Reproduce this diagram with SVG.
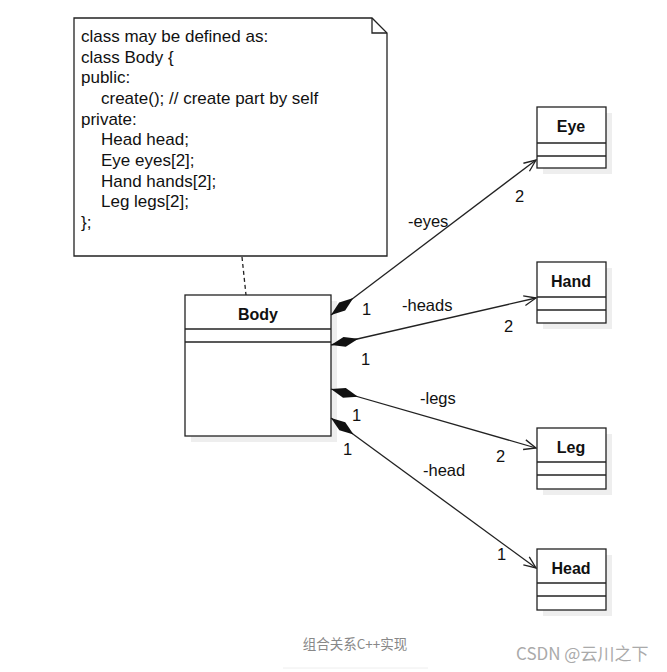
<svg xmlns="http://www.w3.org/2000/svg" width="667" height="672" viewBox="0 0 667 672">
<style>
.box{fill:#fff;stroke:#222;stroke-width:1.3}
.sh{fill:#eee}
.t{font-family:"Liberation Sans",Arial,sans-serif;font-size:16.5px;fill:#111}
.n{font-family:"Liberation Sans",Arial,sans-serif;font-size:17px;fill:#111}
.b{font-family:"Liberation Sans",Arial,sans-serif;font-size:16px;font-weight:bold;fill:#111;text-anchor:middle}
.ln{stroke:#222;stroke-width:1.3;fill:none}
</style>
<defs>
<marker id="open" markerWidth="14" markerHeight="12" refX="13" refY="6" orient="auto" markerUnits="userSpaceOnUse">
<path d="M1,1 L13,6 L1,11" fill="none" stroke="#222" stroke-width="1.3"/>
</marker>
</defs>
<rect width="667" height="672" fill="#fff"/>
<g id="note">
<path class="box" d="M74,18 H372 L387,33 V256 H74 Z"/>
<path class="ln" d="M372,18 V33 H387"/>
<text class="n" x="81" y="42">class may be defined as:</text>
<text class="n" x="81" y="63">class Body {</text>
<text class="n" x="81" y="83">public:</text>
<text class="n" x="101" y="104">create(); // create part by self</text>
<text class="n" x="81" y="125">private:</text>
<text class="n" x="101" y="145">Head head;</text>
<text class="n" x="101" y="166">Eye eyes[2];</text>
<text class="n" x="101" y="187">Hand hands[2];</text>
<text class="n" x="101" y="207">Leg legs[2];</text>
<text class="n" x="81" y="228">};</text>
</g>
<g id="body">
<rect class="sh" x="191" y="301" width="146" height="141"/>
<rect class="box" x="185" y="295" width="146" height="141"/>
<line class="ln" x1="185" y1="329" x2="331" y2="329"/>
<line class="ln" x1="185" y1="342" x2="331" y2="342"/>
<text class="b" x="258" y="320">Body</text>
</g>
<g id="eye">
<rect class="sh" x="543" y="113" width="69" height="61"/>
<rect class="box" x="537" y="107" width="69" height="61"/>
<line class="ln" x1="537" y1="143" x2="606" y2="143"/>
<line class="ln" x1="537" y1="156" x2="606" y2="156"/>
<text class="b" x="571" y="132">Eye</text>
</g>
<g id="hand">
<rect class="sh" x="543" y="268" width="69" height="61"/>
<rect class="box" x="537" y="262" width="69" height="61"/>
<line class="ln" x1="537" y1="297" x2="606" y2="297"/>
<line class="ln" x1="537" y1="310" x2="606" y2="310"/>
<text class="b" x="571" y="287">Hand</text>
</g>
<g id="leg">
<rect class="sh" x="543" y="434" width="69" height="61"/>
<rect class="box" x="537" y="428" width="69" height="61"/>
<line class="ln" x1="537" y1="462" x2="606" y2="462"/>
<line class="ln" x1="537" y1="475" x2="606" y2="475"/>
<text class="b" x="571" y="453">Leg</text>
</g>
<g id="head">
<rect class="sh" x="543" y="555" width="69" height="61"/>
<rect class="box" x="537" y="549" width="69" height="61"/>
<line class="ln" x1="537" y1="583" x2="606" y2="583"/>
<line class="ln" x1="537" y1="596" x2="606" y2="596"/>
<text class="b" x="571" y="574">Head</text>
</g>
<g id="connectors">
<line class="ln" x1="242" y1="257" x2="246" y2="295" stroke-dasharray="4,3"/>
<line class="ln" x1="331" y1="315" x2="536" y2="160" marker-end="url(#open)"/>
<path d="M0,0 L14,-5 L28,0 L14,5 Z" fill="#111" transform="translate(331,315) rotate(-37.1)"/>
<line class="ln" x1="331" y1="345" x2="536" y2="298" marker-end="url(#open)"/>
<path d="M0,0 L14,-5 L28,0 L14,5 Z" fill="#111" transform="translate(331,345) rotate(-12.9)"/>
<line class="ln" x1="331" y1="389" x2="536" y2="448" marker-end="url(#open)"/>
<path d="M0,0 L14,-5 L28,0 L14,5 Z" fill="#111" transform="translate(331,389) rotate(16.1)"/>
<line class="ln" x1="331" y1="418" x2="536" y2="568" marker-end="url(#open)"/>
<path d="M0,0 L14,-5 L28,0 L14,5 Z" fill="#111" transform="translate(331,418) rotate(36.2)"/>
<text class="t" x="408" y="227">-eyes</text>
<text class="t" x="362" y="315">1</text>
<text class="t" x="515" y="202">2</text>
<text class="t" x="402" y="311">-heads</text>
<text class="t" x="361" y="365">1</text>
<text class="t" x="504" y="332">2</text>
<text class="t" x="420" y="404">-legs</text>
<text class="t" x="352" y="421">1</text>
<text class="t" x="496" y="462">2</text>
<text class="t" x="423" y="476">-head</text>
<text class="t" x="343" y="455">1</text>
<text class="t" x="497" y="560">1</text>
</g>
<text x="355" y="649" font-family="'Noto Sans CJK SC',sans-serif" font-size="13.5" fill="#888" text-anchor="middle">组合关系C++实现</text>
<line x1="283" y1="668" x2="428" y2="668" stroke="#eee" stroke-width="1"/>
<text x="516" y="660" font-family="'Noto Sans CJK SC',sans-serif" font-size="17" fill="#aaa">CSDN @云川之下</text>
</svg>
